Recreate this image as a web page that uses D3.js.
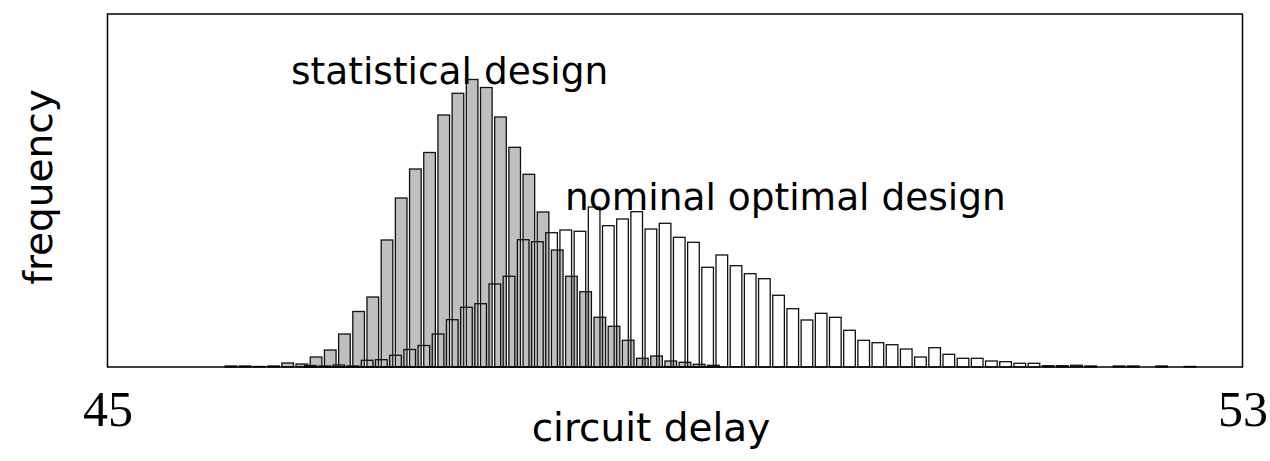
<!DOCTYPE html>
<html>
<head>
<meta charset="utf-8">
<script src="https://cdn.jsdelivr.net/npm/d3@7"></script>
<style>
  html, body { margin: 0; padding: 0; background: #ffffff; }
  svg { display: block; }
</style>
</head>
<body>
<svg id="chart" width="1270" height="461"></svg>
<script>
// Circuit delay histograms: statistical design vs. nominal optimal design
const delayDomain = [45, 53];
const tickValues = [45, 53];
const binWidth = 0.1;

// Statistical design: first bin centre and bin frequencies
const statisticalStart = 45.87;
const statisticalFreq = [
  1, 1, 0.5, 1, 4, 3, 10, 17, 33, 55.5,
  70, 127, 169, 198, 214.5, 252, 273.7, 287.5, 279.5, 250,
  219.7, 192.7, 155, 117, 90.7, 75.3, 49.7, 40.7, 26.7, 8.7,
  11, 6, 4.7, 2.7, 1.7
];

// Nominal optimal design: first bin centre and bin frequencies
const nominalStart = 46.43;
const nominalFreq = [
  1.5, 1, 2, 1, 6.7, 7.3, 11.7, 17.5, 21.5, 33,
  47.3, 59.7, 63.3, 83, 90.7, 127.3, 125.3, 134.3, 137, 135.7,
  160, 141.3, 148, 155.3, 138, 143.7, 129.7, 124.7, 99.7, 112,
  101.3, 93.3, 88.3, 71.7, 58.3, 47, 53.7, 49.7, 36.7, 26.7,
  24.3, 22.3, 18, 10, 19.3, 12.7, 8.7, 8.7, 6, 5.3,
  3.7, 3.7, 1.3, 1.3, 1.7, 1, 0, 1, 1, 0,
  1, 0, 0.5
];

const labels = {
  statistical: "statistical design",
  nominal: "nominal optimal design",
  x: "circuit delay",
  y: "frequency"
};

const frame = { left: 107.5, right: 1242.5, top: 14, bottom: 367 };
const barFrac = 0.82;

const svg = d3.select("#chart");

const x = d3.scaleLinear().domain(delayDomain).range([frame.left, frame.right]);
const y = d3.scaleLinear().domain([0, frame.bottom - frame.top]).range([frame.bottom, frame.top]);

function toBins(start, freqs) {
  return freqs.map((f, i) => ({ center: start + i * binWidth, freq: f })).filter(d => d.freq > 0);
}

const statBins = toBins(statisticalStart, statisticalFreq);
const nomBins = toBins(nominalStart, nominalFreq);

const halfW = binWidth * barFrac / 2;

// Statistical design bars (filled grey)
svg.append("g")
  .selectAll("rect")
  .data(statBins)
  .join("rect")
  .attr("x", d => x(d.center - halfW))
  .attr("width", d => x(d.center + halfW) - x(d.center - halfW))
  .attr("y", d => y(d.freq))
  .attr("height", d => y(0) - y(d.freq))
  .attr("fill", "#bfbfbf")
  .attr("stroke", "#111")
  .attr("stroke-width", 1.3);

// Nominal optimal design bars (outline only)
svg.append("g")
  .selectAll("rect")
  .data(nomBins)
  .join("rect")
  .attr("x", d => x(d.center - halfW))
  .attr("width", d => x(d.center + halfW) - x(d.center - halfW))
  .attr("y", d => y(d.freq))
  .attr("height", d => y(0) - y(d.freq))
  .attr("fill", "none")
  .attr("stroke", "#111")
  .attr("stroke-width", 1.3);

// Plot frame
svg.append("rect")
  .attr("x", frame.left)
  .attr("y", frame.top)
  .attr("width", frame.right - frame.left)
  .attr("height", frame.bottom - frame.top)
  .attr("fill", "none")
  .attr("stroke", "#000")
  .attr("stroke-width", 1.5);

// X axis tick labels only
const xAxis = d3.axisBottom(x).tickValues(tickValues).tickSize(0).tickPadding(0).tickFormat(d3.format("d"));
const axisG = svg.append("g")
  .attr("transform", `translate(0,${frame.bottom})`)
  .call(xAxis);
axisG.select(".domain").remove();
axisG.selectAll("text")
  .attr("y", 59)
  .attr("dy", null)
  .attr("font-family", "'Liberation Serif', 'DejaVu Serif', serif")
  .attr("font-size", 50)
  .attr("fill", "#000");

// Annotations
const sans = "'DejaVu Sans', Verdana, sans-serif";
svg.append("text")
  .attr("x", 291).attr("y", 84)
  .attr("font-family", sans).attr("font-size", 37.5)
  .attr("fill", "#000")
  .text(labels.statistical);

svg.append("text")
  .attr("x", 565).attr("y", 210)
  .attr("font-family", sans).attr("font-size", 37.5)
  .attr("fill", "#000")
  .text(labels.nominal);

svg.append("text")
  .attr("x", 651).attr("y", 441)
  .attr("text-anchor", "middle")
  .attr("font-family", sans).attr("font-size", 39)
  .attr("fill", "#000")
  .text(labels.x);

svg.append("text")
  .attr("transform", "translate(52,187) rotate(-90)")
  .attr("text-anchor", "middle")
  .attr("font-family", sans).attr("font-size", 39)
  .attr("fill", "#000")
  .text(labels.y);
</script>
</body>
</html>
